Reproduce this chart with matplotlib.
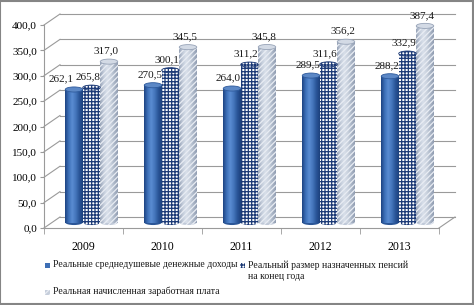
import numpy as np
import matplotlib
matplotlib.use('Agg')
import matplotlib.pyplot as plt
from matplotlib.patches import Ellipse, Rectangle
from matplotlib.colors import LinearSegmentedColormap

# data
years = ['2009', '2010', '2011', '2012', '2013']
income = [262.1, 270.5, 264.0, 289.5, 288.2]
pension = [265.8, 300.1, 311.2, 311.6, 332.9]
salary = [317.0, 345.5, 345.8, 356.2, 387.4]
series_labels = ['Реальные среднедушевые денежные доходы',
                 'Реальный размер назначенных пенсий\nна конец года',
                 'Реальная начисленная заработная плата']
y_ticks = np.arange(0, 401, 50)

plt.rcParams['font.family'] = ['Liberation Serif', 'DejaVu Serif']
plt.rcParams['hatch.linewidth'] = 0.9

W, H = 474, 305
fig = plt.figure(figsize=(W / 100, H / 100), dpi=100)
fig.patch.set_facecolor('white')

# plot area in pixels (front plane); axis runs 0..400 between y=228 and y=25
left, right, bottom, top = 44, 439, 228, 25
ymax = 440
px_x = (right - left) / len(years)      # pixels per category
px_y = (bottom - top) / 400.0           # pixels per unit
ax_top = bottom - ymax * px_y
ax = fig.add_axes([left / W, 1 - bottom / H, (right - left) / W, (bottom - ax_top) / H])
ax.patch.set_alpha(0)

# fake 3d depth: back wall offset
bx, by = 16 / px_x, 11 / px_y
mx, my = bx / 2, by / 2                 # bars stand mid-depth

grid_c = '#9A9A9A'
for v in y_ticks:
    ax.plot([-0.5, -0.5 + bx], [v, v + by], color=grid_c, lw=0.8, clip_on=False, zorder=1)
    ax.plot([-0.5 + bx, len(years) - 0.5 + bx], [v + by, v + by], color=grid_c, lw=0.8,
            clip_on=False, zorder=1)
ax.plot([len(years) - 0.5, len(years) - 0.5 + bx], [0, by], color=grid_c, lw=0.8,
        clip_on=False, zorder=1)

blue_cmap = LinearSegmentedColormap.from_list(
    'blue_cyl', ['#1D4482', '#3D70B8', '#5A8CD2', '#4576BC', '#2A5699', '#1C417D'])
light_cmap = LinearSegmentedColormap.from_list(
    'light_cyl', ['#97A3B7', '#C3CCDA', '#D8DFEA', '#CAD2DE', '#ABB6C7', '#919DB1'])
grad = np.linspace(0, 1, 64).reshape(1, -1)

styles = [
    dict(cmap=blue_cmap, face='none', edge='none', hatch=None, cap='#5C88C6', capedge='#2E5A9C',
         base='#2B5697', caphatch=None),
    dict(cmap=None, face='white', edge='#1A3875', hatch='+++++', cap='white', capedge='#1A3875',
         base='white', caphatch='+++++'),
    dict(cmap=light_cmap, face='none', edge='#E9EDF4', hatch='//////', cap='#D3DAE5',
         capedge='#97A3B7', base='#C0C9D8', caphatch=None),
]

bar_w = 17.5 / px_x
cap_h = 10.0
x = np.arange(len(years))
all_bars = []
for k, (vals, st) in enumerate(zip([income, pension, salary], styles)):
    pos = x + (k - 1) * bar_w + mx
    z = 3 + k * 0.01
    bars = ax.bar(pos, vals, width=bar_w, bottom=my, facecolor=st['face'],
                  edgecolor=st['edge'], hatch=st['hatch'], linewidth=0, zorder=z + 0.5)
    all_bars.append(bars)
    for rect in bars:
        xc = rect.get_x() + rect.get_width() / 2
        y0 = rect.get_y()
        y1 = y0 + rect.get_height()
        if st['cmap'] is not None:
            im = ax.imshow(grad, extent=[rect.get_x(), rect.get_x() + rect.get_width(), y0, y1],
                           cmap=st['cmap'], aspect='auto', zorder=z, interpolation='bilinear')
            im.set_clip_path(rect)
        ax.add_patch(Ellipse((xc, y0), rect.get_width(), cap_h, facecolor=st['base'],
                             edgecolor=st['edge'], hatch=st['hatch'], lw=0, zorder=z - 0.1))
        ax.add_patch(Ellipse((xc, y1), rect.get_width(), cap_h, facecolor=st['cap'],
                             edgecolor=st['capedge'], hatch=st['caphatch'], lw=0.6,
                             zorder=z + 0.8))

# value labels
for k, (vals, bars) in enumerate(zip([income, pension, salary], all_bars)):
    for i, rect in enumerate(bars):
        xc = rect.get_x() + rect.get_width() / 2
        y1 = rect.get_y() + rect.get_height() + cap_h / 2
        dx = -2.5
        if k == 0 and abs(income[i] - pension[i]) < 15:
            dx -= 7
        ax.annotate(f'{vals[i]:.1f}'.replace('.', ','), xy=(xc, y1), xytext=(dx, 2.5),
                    textcoords='offset points', ha='center', va='bottom', fontsize=8,
                    color='#1A1A1A', zorder=10)

ax.set_xlim(-0.5, len(years) - 0.5)
ax.set_ylim(0, ymax)
ax.set_yticks(y_ticks)
ax.set_yticklabels([f'{v:.1f}'.replace('.', ',') for v in y_ticks], fontsize=8)
ax.set_xticks(x)
ax.set_xticklabels(years, fontsize=8.5)
ax.set_xticks(np.arange(len(years) + 1) - 0.5, minor=True)
ax.tick_params(axis='x', which='major', length=0, pad=9)
ax.tick_params(axis='x', which='minor', length=4, color=grid_c, direction='out')
ax.tick_params(axis='y', length=3, color=grid_c, pad=2)
for s in ['top', 'right']:
    ax.spines[s].set_visible(False)
for s in ['left', 'bottom']:
    ax.spines[s].set_color(grid_c)
    ax.spines[s].set_linewidth(0.8)
ax.spines['left'].set_bounds(0, 400)


# legend, drawn by hand in pixel positions
def fx(px):
    return px / W


def fy(py):
    return 1 - py / H


leg_items = [(45, 265.5), (240, 265.5), (45, 292)]
leg_faces = ['#3E6FB5', 'white', '#C6CEDB']
for (lx, ly), st, face, lab in zip(leg_items, styles, leg_faces, series_labels):
    fig.patches.append(Rectangle((fx(lx), fy(ly + 2.5)), 5 / W, 5 / H, transform=fig.transFigure,
                                 facecolor=face, edgecolor=st['edge'] if st['hatch'] else 'none',
                                 hatch=st['hatch'], lw=0))
    fig.text(fx(lx + 8), fy(ly - 5.5), lab, fontsize=7, va='top', ha='left',
             color='#1A1A1A', linespacing=1.3)

fig.patches.append(Rectangle((0.001, 0.002), 0.996, 0.995, transform=fig.transFigure,
                             fill=False, edgecolor='#858585', lw=1.5))

fig.savefig('out.png', dpi=100)
